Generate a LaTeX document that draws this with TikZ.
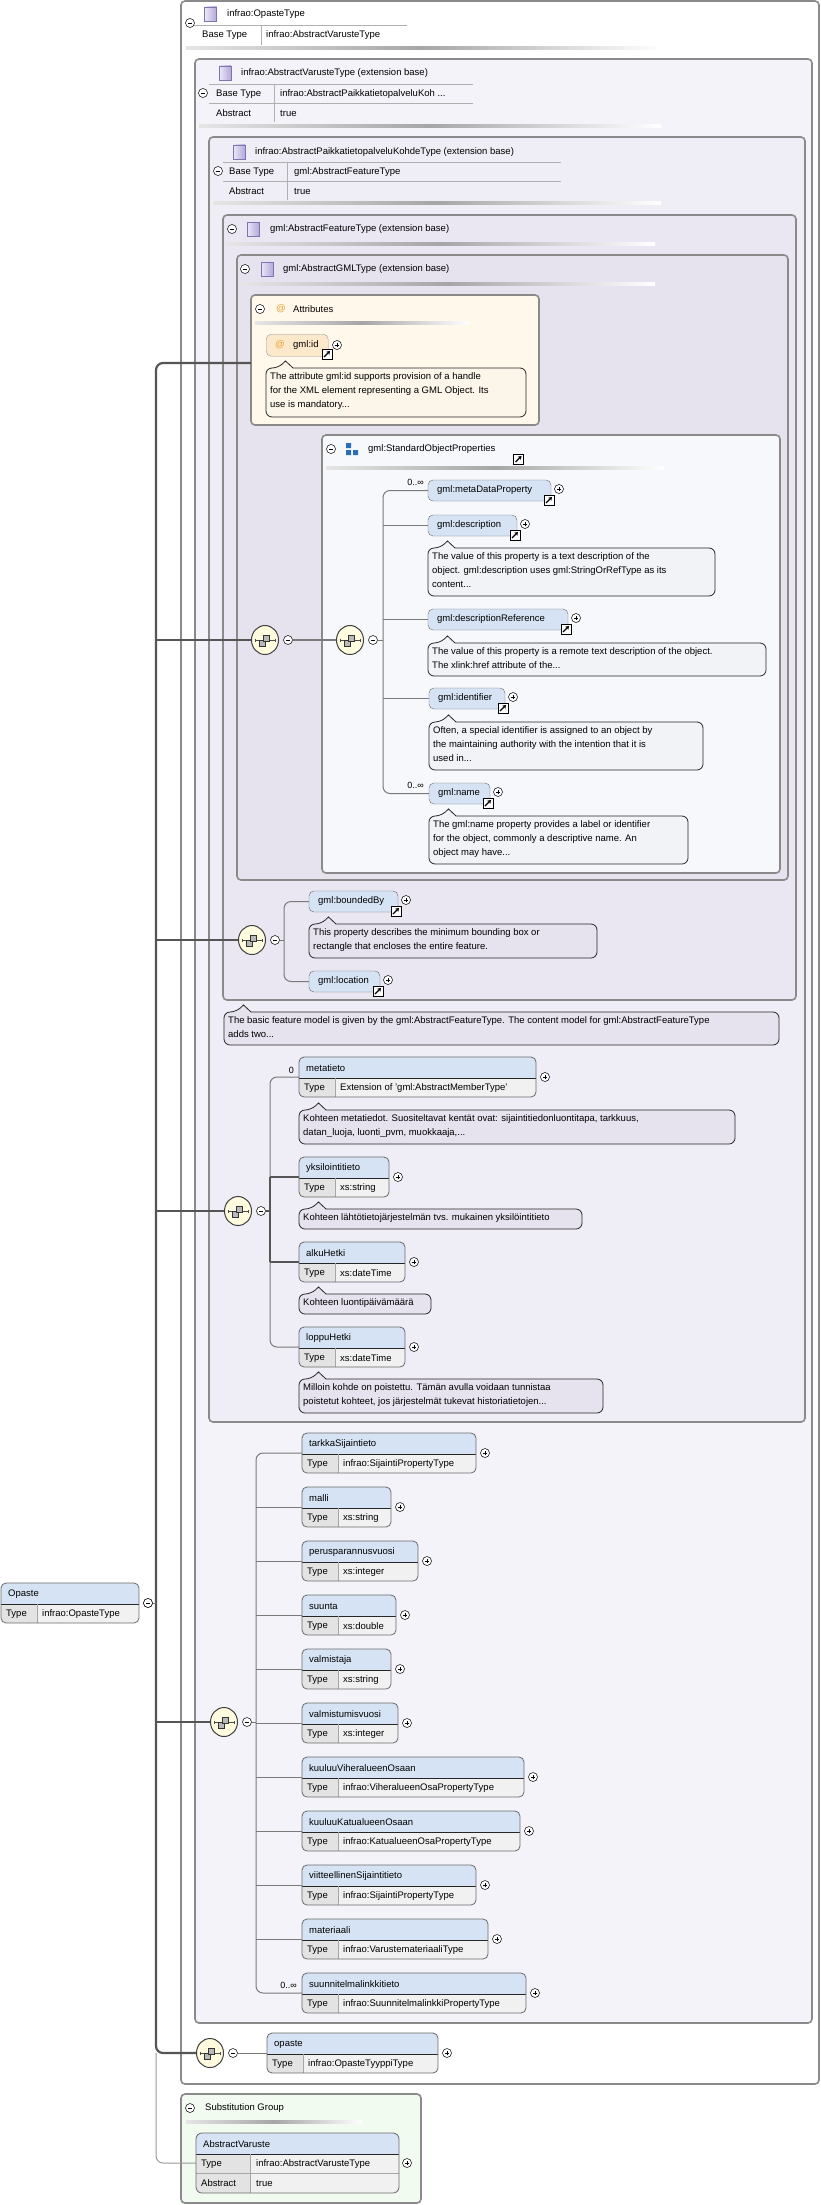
\documentclass[tikz,border=0pt]{standalone}
\usepackage{fontspec}
\setmainfont{Liberation Sans}
\usetikzlibrary{shapes.geometric,arrows.meta,calc}
\definecolor{framec}{HTML}{8A8A8A}
\definecolor{bgA}{HTML}{F4F3F9}
\definecolor{bgB}{HTML}{EFEDF5}
\definecolor{bgC}{HTML}{EAE7F2}
\definecolor{bgD}{HTML}{E6E3EF}
\definecolor{sopbg}{HTML}{F7F8FC}
\definecolor{attrbg}{HTML}{FFF8EB}
\definecolor{attrel}{HTML}{FCE9CC}
\definecolor{namebg}{HTML}{D6E3F5}
\definecolor{typebg}{HTML}{F1F1F1}
\definecolor{typelbl}{HTML}{E3E3E3}
\definecolor{elborder}{HTML}{6A6A6A}
\definecolor{callA}{HTML}{E6E2EE}
\definecolor{callS}{HTML}{F2F3F7}
\definecolor{callAt}{HTML}{FBF5EA}
\definecolor{subbg}{HTML}{F1FBF0}
\definecolor{compbg}{HTML}{FFFCE0}
\definecolor{conn}{HTML}{7A7A7A}
\definecolor{busc}{HTML}{555555}
\definecolor{tblline}{HTML}{B0B0B0}
\definecolor{atorange}{HTML}{F0A030}
\definecolor{sopblue}{HTML}{2A6EBB}
\definecolor{icL}{HTML}{ECE8F8}
\definecolor{icR}{HTML}{B3A8DA}
\definecolor{icB}{HTML}{7F73B0}
\tikzset{
 frame/.style={draw=framec,line width=1.6pt,rounded corners=4pt,anchor=north west,inner sep=0,outer sep=0},
 txt/.style={anchor=west,inner sep=0,font=\fontsize{9.5}{11}\selectfont},
 ctxt/.style={anchor=north west,inner sep=0,align=left,font=\fontsize{9.5}{14}\selectfont},
 lbl/.style={anchor=east,inner sep=0,font=\fontsize{9}{11}\selectfont},
 pm/.style={circle,draw=black,fill=white,line width=0.5pt,minimum size=9pt,inner sep=0},
 minus/.style={pm,path picture={\draw[line width=0.6pt]([xshift=-2.3pt]path picture bounding box.center)--([xshift=2.3pt]path picture bounding box.center);}},
 plus/.style={pm,path picture={\draw[line width=0.6pt]([xshift=-2.3pt]path picture bounding box.center)--([xshift=2.3pt]path picture bounding box.center)([yshift=-2.3pt]path picture bounding box.center)--([yshift=2.3pt]path picture bounding box.center);}},
 linkic/.style={rectangle,draw=black,fill=white,line width=0.6pt,minimum size=10pt,inner sep=0,path picture={\draw[line width=1.1pt,-{Stealth[length=3.5pt,width=4.5pt]}]([shift={(-3pt,-3pt)}]path picture bounding box.center)--([shift={(3pt,3pt)}]path picture bounding box.center);}},
 typeicon/.style={rectangle,minimum width=12pt,minimum height=14pt,inner sep=0,draw=icB,left color=icL,right color=icR},
 elnode/.style={rectangle,anchor=north west,minimum height=40,inner sep=0,outer sep=0},
 gnode/.style={rectangle,rounded corners=5pt,draw=elborder,fill=namebg,anchor=north west,minimum height=21,inner sep=0,outer sep=0},
 compo/.style={ellipse,draw=black!75,line width=1pt,fill=compbg,minimum width=27pt,minimum height=29pt,inner sep=0},
 callline/.style={draw=black!85,line width=0.8pt},
 connl/.style={draw=conn,line width=1pt},
 thickconn/.style={draw=busc,line width=2pt},
 bus/.style={draw=busc,line width=2.2pt},
 tline/.style={draw=tblline,line width=0.8pt},
}
\newcommand\grad[3]{\shade[left color=gray!20,right color=white,middle color=gray!70](#1,#3-1.2) rectangle (#2,#3+1.2);}
\newcommand\typed[6]{%
 \node[elnode,minimum width=#4] (#1) at (#2,#3) {};
 \begin{scope}
  \clip[rounded corners=5pt] (#2,#3) rectangle ++(#4,40);
  \fill[typebg] (#2,#3) rectangle ++(#4,40);
  \fill[namebg] (#2,#3) rectangle ++(#4,21);
  \fill[typelbl] (#2,#3+21) rectangle ++(36,19);
 \end{scope}
 \draw[black!85,line width=0.9pt] (#2,#3+21) -- ++(#4,0);
 \draw[black!35,line width=0.6pt] (#2+36,#3+21) -- ++(0,19);
 \draw[elborder,line width=0.8pt,rounded corners=5pt] (#2,#3) rectangle ++(#4,40);
 \node[txt] (#1-n) at (#2+7,#3+11) {#5};
 \node[txt] (#1-tl) at (#2+5,#3+31) {Type};
 \node[txt] (#1-tv) at (#2+41,#3+31) {#6};
 \node[plus] (#1-p) at (#2+#4+9,#3+20) {};
}
\newcommand\gelem[5]{%
 \node[gnode,minimum width=#4] (#1) at (#2,#3) {};
 \node[txt] (#1-n) at (#2+9,#3+10.5) {#5};
 \node[linkic] (#1-l) at (#2+#4-2,#3+20) {};
 \node[plus] (#1-p) at (#2+#4+8,#3+9) {};
}
\newcommand\callout[7]{%
 \draw[callline,fill=#6] (#2+27,#3) [rounded corners=6pt] -- (#4,#3) -- (#4,#5) -- (#2,#5) -- (#2,#3) -- (#2+12,#3) [sharp corners] -- (#2+19.5,#3-7) -- cycle;
 \node[ctxt] (#1) at (#2+4,#3+4) {#7};
}
\newcommand\comp[4]{%
 \node[compo] (#1) at (#2,#3) {};
 \draw[black!70,line width=0.6pt] ([xshift=-10pt]#1.center) -- ([xshift=10pt]#1.center);
 \draw[black!70,line width=0.6pt] ([shift={(-10pt,-1.5pt)}]#1.center) -- ++(0,3pt) ([shift={(10pt,-1.5pt)}]#1.center) -- ++(0,3pt);
 \draw[fill=gray!55,draw=black!80,line width=0.5pt] ([shift={(-6pt,-6pt)}]#1.center) rectangle ++(6pt,6pt);
 \draw[fill=gray!55,draw=black!80,line width=0.5pt] ([shift={(-1.5pt,-1.5pt)}]#1.center) rectangle ++(6pt,6pt);
 \node[minus] (#4) at (#2+23,#3) {};
}
\begin{document}
\begin{tikzpicture}[x=1pt,y=-1pt]
\useasboundingbox[fill=white] (0,0) rectangle (821,2205);
% ---------- frames
\node[frame,fill=white,minimum width=638,minimum height=2083] (box1) at (181,1) {};
\node[frame,fill=bgA,minimum width=617,minimum height=1964] (box2) at (195,59) {};
\node[frame,fill=bgB,minimum width=596,minimum height=1285] (box3) at (209,137) {};
\node[frame,fill=bgC,minimum width=573,minimum height=785] (box4) at (223,215) {};
\node[frame,fill=bgD,minimum width=551,minimum height=625] (box5) at (237,255) {};
\node[frame,fill=attrbg,minimum width=288,minimum height=130] (attrbox) at (251,295) {};
\node[frame,fill=sopbg,minimum width=458,minimum height=438] (sop) at (322,435) {};
\node[frame,fill=subbg,minimum width=240,minimum height=109] (subst) at (181,2094) {};
% ---------- box1 header
\node[minus] (m-b1) at (190,23) {};
\node[typeicon] (ic-b1) at (210.5,14) {};
\node[txt] (t-b1) at (227,14) {infrao:OpasteType};
\draw[tline] (194,25) -- (407,25) (261,25) -- (261,45);
\node[txt] (t-b1a) at (202,35) {Base Type};
\node[txt] (t-b1b) at (266,35) {infrao:AbstractVarusteType};
\grad{186}{661}{48}
% ---------- box2 header
\node[typeicon] (ic-b2) at (225,73) {};
\node[txt] (t-b2) at (241,73) {infrao:AbstractVarusteType (extension base)};
\draw[tline] (209,84) -- (473,84) (209,103) -- (473,103) (274,84) -- (274,122);
\node[minus] (m-b2) at (203,93) {};
\node[txt] (t-b2a) at (216,94) {Base Type};
\node[txt] (t-b2b) at (280,94) {infrao:AbstractPaikkatietopalveluKoh ...};
\node[txt] (t-b2c) at (216,113) {Abstract};
\node[txt] (t-b2d) at (280,113) {true};
\grad{199}{661}{126}
% ---------- box3 header
\node[typeicon] (ic-b3) at (239,152) {};
\node[txt] (t-b3) at (255,152) {infrao:AbstractPaikkatietopalveluKohdeType (extension base)};
\draw[tline] (223,162) -- (561,162) (223,181) -- (561,181) (287,162) -- (287,200);
\node[minus] (m-b3) at (218,171) {};
\node[txt] (t-b3a) at (229,172) {Base Type};
\node[txt] (t-b3b) at (294,172) {gml:AbstractFeatureType};
\node[txt] (t-b3c) at (229,191) {Abstract};
\node[txt] (t-b3d) at (294,191) {true};
\grad{213}{661}{203}
% ---------- box4 / box5 headers
\node[minus] (m-b4) at (232,229) {};
\node[typeicon] (ic-b4) at (253,229) {};
\node[txt] (t-b4) at (270,229) {gml:AbstractFeatureType (extension base)};
\grad{227}{655}{244}
\node[minus] (m-b5) at (245,269) {};
\node[typeicon] (ic-b5) at (267,269) {};
\node[txt] (t-b5) at (283,269) {gml:AbstractGMLType (extension base)};
\grad{241}{655}{284}
% ---------- attributes
\node[minus] (m-at) at (260,309) {};
\node[txt,text=atorange] (at-sym) at (276,309) {@};
\node[txt] (t-at) at (293,309) {Attributes};
\grad{255}{469}{323}
\node[rectangle,rounded corners=5pt,draw=black!40,fill=attrel,anchor=north west,minimum width=62,minimum height=22,inner sep=0] (gmlid) at (266,334) {};
\node[txt,text=atorange] (gmlid-at) at (275,345) {@};
\node[txt] (gmlid-n) at (293,345) {gml:id};
\node[linkic] (gmlid-l) at (327,354) {};
\node[plus] (gmlid-p) at (337,345) {};
\callout{c-id}{266}{368}{526}{417}{callAt}{The attribute gml:id supports provision of a handle\\for the XML element representing a GML Object. Its\\use is mandatory...}
% ---------- standard object properties
\node[minus] (m-sop) at (331,449) {};
\fill[sopblue] (346,443) rectangle ++(5,5) (346,450) rectangle ++(5,5) (353,450) rectangle ++(5,5);
\node[txt] (t-sop) at (368,449) {gml:StandardObjectProperties};
\node[linkic] (l-sop) at (518.5,459) {};
\grad{326}{664}{468}
% ---------- substitution group header
\node[minus] (m-sub) at (190,2108) {};
\node[txt] (t-sub) at (205,2108) {Substitution Group};
\grad{186}{362}{2122}
% ---------- top level element
\typed{opasteTop}{1}{1583}{138}{Opaste}{infrao:OpasteType}
\node[minus] (m-op) at (148,1603) {};
% ---------- compositors
\comp{comp1}{265}{640}{m1}
\comp{comp2}{350}{640}{m2}
\comp{comp3}{252}{940}{m3}
\comp{comp4}{238}{1211}{m4}
\comp{comp5}{224}{1722}{m5}
\comp{comp6}{210}{2053}{m6}
% ---------- main bus
\coordinate (attrIn) at (251,363);
\coordinate (busTop) at (156,363);
\coordinate (busBot) at (156,2053);
\coordinate (subTurn) at (156,2163);
% ---------- gml elements
\gelem{g1}{428}{480}{123}{gml:metaDataProperty}
\gelem{g2}{428}{515}{89}{gml:description}
\callout{c-g2}{428}{548}{715}{596}{callS}{The value of this property is a text description of the\\object. gml:description uses gml:StringOrRefType as its\\content...}
\gelem{g3}{428}{609}{140}{gml:descriptionReference}
\callout{c-g3}{428}{643}{766}{676}{callS}{The value of this property is a remote text description of the object.\\The xlink:href attribute of the...}
\gelem{g4}{429}{688}{76}{gml:identifier}
\callout{c-g4}{429}{722}{703}{770}{callS}{Often, a special identifier is assigned to an object by\\the maintaining authority with the intention that it is\\used in...}
\gelem{g5}{429}{783}{61}{gml:name}
\callout{c-g5}{429}{816}{688}{864}{callS}{The gml:name property provides a label or identifier\\for the object, commonly a descriptive name. An\\object may have...}
\node[lbl] (lb-g1) at (424,482) {0..∞};
\node[lbl] (lb-g5) at (424,785) {0..∞};
\gelem{g6}{309}{891}{89}{gml:boundedBy}
\callout{c-g6}{309}{924}{597}{958}{callA}{This property describes the minimum bounding box or\\rectangle that encloses the entire feature.}
\gelem{g7}{309}{971}{71}{gml:location}
\callout{c-feat}{224}{1012}{779}{1045}{callA}{The basic feature model is given by the gml:AbstractFeatureType. The content model for gml:AbstractFeatureType\\adds two...}
% ---------- infrao:AbstractPaikkatietopalveluKohdeType elements
\typed{e1}{299}{1057}{237}{metatieto}{Extension of \char39 gml:AbstractMemberType\char39}
\node[lbl] (lb-e1) at (294,1070) {0};
\callout{c-e1}{299}{1110}{735}{1144}{callA}{Kohteen metatiedot. Suositeltavat kentät ovat: sijaintitiedonluontitapa, tarkkuus,\\datan\_luoja, luonti\_pvm, muokkaaja,...}
\typed{e2}{299}{1157}{90}{yksilointitieto}{xs:string}
\callout{c-e2}{299}{1209}{582}{1229}{callA}{Kohteen lähtötietojärjestelmän tvs. mukainen yksilöintitieto}
\typed{e3}{299}{1242}{106}{alkuHetki}{xs:dateTime}
\callout{c-e3}{299}{1294}{431}{1314}{callA}{Kohteen luontipäivämäärä}
\typed{e4}{299}{1327}{106}{loppuHetki}{xs:dateTime}
\callout{c-e4}{299}{1379}{603}{1413}{callA}{Milloin kohde on poistettu. Tämän avulla voidaan tunnistaa\\poistetut kohteet, jos järjestelmät tukevat historiatietojen...}
% ---------- AbstractVarusteType elements
\typed{f1}{302}{1433}{174}{tarkkaSijaintieto}{infrao:SijaintiPropertyType}
\typed{f2}{302}{1487}{89}{malli}{xs:string}
\typed{f3}{302}{1541}{116}{perusparannusvuosi}{xs:integer}
\typed{f4}{302}{1595}{94}{suunta}{xs:double}
\typed{f5}{302}{1649}{89}{valmistaja}{xs:string}
\typed{f6}{302}{1703}{96}{valmistumisvuosi}{xs:integer}
\typed{f7}{302}{1757}{222}{kuuluuViheralueenOsaan}{infrao:ViheralueenOsaPropertyType}
\typed{f8}{302}{1811}{218}{kuuluuKatualueenOsaan}{infrao:KatualueenOsaPropertyType}
\typed{f9}{302}{1865}{174}{viitteellinenSijaintitieto}{infrao:SijaintiPropertyType}
\typed{f10}{302}{1919}{186}{materiaali}{infrao:VarustemateriaaliType}
\typed{f11}{302}{1973}{224}{suunnitelmalinkkitieto}{infrao:SuunnitelmalinkkiPropertyType}
\node[lbl] (lb-f11) at (297,1985) {0..∞};
% ---------- OpasteType element
\typed{h1}{267}{2033}{171}{opaste}{infrao:OpasteTyyppiType}
% ---------- substitution group element
\node[elnode,minimum width=203,minimum height=60] (absv) at (196,2133) {};
\begin{scope}
 \clip[rounded corners=6pt] (196,2133) rectangle ++(203,60);
 \fill[typebg] (196,2133) rectangle ++(203,60);
 \fill[namebg] (196,2133) rectangle ++(203,21);
 \fill[typelbl] (196,2154) rectangle ++(54,39);
\end{scope}
\draw[black!85,line width=0.9pt] (196,2154) -- ++(203,0);
\draw[black!35,line width=0.6pt] (196,2173) -- ++(203,0) (250,2154) -- ++(0,39);
\draw[elborder,line width=0.8pt,rounded corners=6pt] (196,2133) rectangle ++(203,60);
\node[txt] (absv-n) at (203,2144) {AbstractVaruste};
\node[txt] (absv-t) at (201,2164) {Type};
\node[txt] (absv-tv) at (256,2164) {infrao:AbstractVarusteType};
\node[txt] (absv-a) at (201,2183) {Abstract};
\node[txt] (absv-av) at (256,2183) {true};
\node[plus] (absv-p) at (407,2163) {};
% ---------- connectors
\draw[connl,draw=black!40,rounded corners=7pt] (busBot) -- (subTurn) -- (absv.west);
\draw[bus,rounded corners=7pt] (attrIn) -- (busTop) -- (busBot) -- (comp6.west);
\draw[bus] (comp1.west) -- (comp1.west -| busTop);
\draw[bus] (comp3.west) -- (comp3.west -| busTop);
\draw[bus] (comp4.west) -- (comp4.west -| busTop);
\draw[bus] (comp5.west) -- (comp5.west -| busTop);
\draw[connl] (m-op.east) -- (m-op.east -| busTop);
\draw[connl,line width=1.5pt] (m1.east) -- (comp2.west);
% SOP children
\coordinate (v2) at (383,640);
\draw[connl,rounded corners=7pt] (g1.west) -- (v2 |- g1.west) -- (v2 |- g5.west) -- (g5.west);
\draw[connl] (m2.east) -- (v2);
\draw[connl] (v2 |- g2.west) -- (g2.west);
\draw[connl] (v2 |- g3.west) -- (g3.west);
\draw[connl] (v2 |- g4.west) -- (g4.west);
% feature children
\coordinate (v3) at (284,940);
\draw[connl,rounded corners=7pt] (g6.west) -- (v3 |- g6.west) -- (v3 |- g7.west) -- (g7.west);
\draw[connl] (m3.east) -- (v3);
% Paikkatieto children
\coordinate (v4) at (270,1211);
\draw[connl,rounded corners=7pt] (e1.west) -- (v4 |- e1.west) -- (v4 |- e4.west) -- (e4.west);
\draw[thickconn] (m4.east) -- (v4);
\draw[thickconn] (v4 |- e2.west) -- (v4 |- e3.west);
\draw[thickconn] (v4 |- e2.west) -- (e2.west);
\draw[thickconn] (v4 |- e3.west) -- (e3.west);
% Varuste children
\coordinate (v5) at (256,1722);
\draw[connl,rounded corners=7pt] (f1.west) -- (v5 |- f1.west) -- (v5 |- f11.west) -- (f11.west);
\draw[connl] (m5.east) -- (v5);
\foreach \k in {2,...,10} {\draw[connl] (v5 |- f\k.west) -- (f\k.west);}
% opaste
\draw[connl] (m6.east) -- (h1.west);
\end{tikzpicture}
\end{document}
